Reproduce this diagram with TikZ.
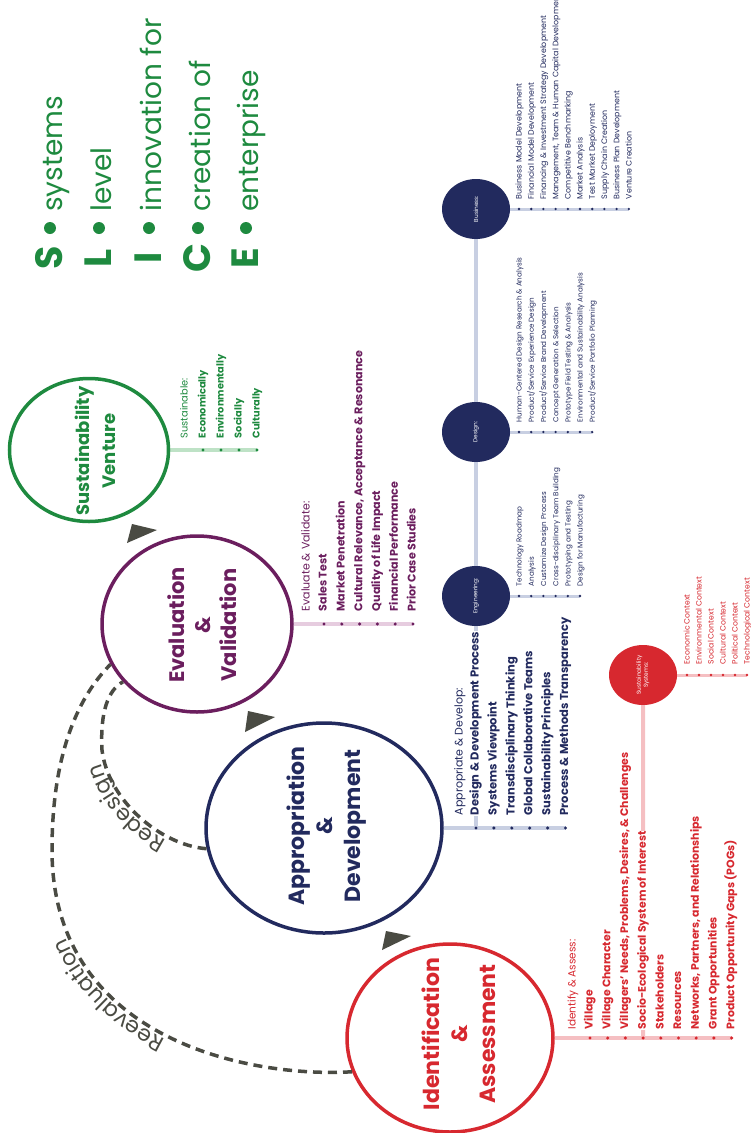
\documentclass[tikz,border=0pt]{standalone}
\usepackage{fontspec}
\setmainfont{Poppins}
\usetikzlibrary{shapes.geometric,decorations.text,backgrounds}
\definecolor{cred}{HTML}{D7282F}
\definecolor{lred}{HTML}{F5BFC2}
\definecolor{navy}{HTML}{222A5E}
\definecolor{lnavy}{HTML}{C8CFE2}
\definecolor{cpur}{HTML}{6B1E5E}
\definecolor{lpur}{HTML}{E6CCDF}
\definecolor{cgrn}{HTML}{1E8A3F}
\definecolor{lgrn}{HTML}{BEE2C6}
\definecolor{agray}{HTML}{4A4B43}
\begin{document}
\begin{tikzpicture}[x=1pt,y=-1pt,
  bigc/.style={ellipse, draw, line width=3.5pt, inner sep=0pt},
  smallc/.style={ellipse, inner sep=0pt, minimum width=68pt, minimum height=60pt},
  ttl/.style={rotate=90, align=center, inner sep=0pt, font=\bfseries\fontsize{22}{28}\selectfont},
  itm/.style={rotate=90, anchor=mid west, inner sep=0.6pt, fill=white},
  bigitem/.style={itm, font=\bfseries\fontsize{11.1}{13}\selectfont},
  hdr/.style={itm, font=\fontsize{11}{13}\selectfont},
  smitem/.style={itm, font=\fontsize{7.2}{8}\selectfont},
  dotm/.style={circle, inner sep=0pt, minimum size=3.4pt},
  sdotm/.style={circle, inner sep=0pt, minimum size=2.6pt},
  mline/.style={line width=4pt},
  sline/.style={line width=3pt},
  darc/.style={agray, line width=3.5pt, dash pattern=on 9pt off 6pt},
  slabel/.style={rotate=90, text=white, inner sep=0pt, align=center, font=\fontsize{5.8}{7}\selectfont}]
\useasboundingbox (0,0) rectangle (751,1133);

% ---- main circles
\node[bigc, draw=cred, minimum width=206pt, minimum height=188pt] (idc) at (450,1038) {};
\node[bigc, draw=navy, minimum width=236pt, minimum height=210pt] (apd) at (324,828) {};
\node[bigc, draw=cpur, minimum width=190pt, minimum height=176pt] (evv) at (197,624) {};
\node[bigc, draw=cgrn, minimum width=159pt, minimum height=143pt] (sve) at (89,450) {};

\node[ttl, text=cred] (idct) at (459,1034) {Identification\\\&\\Assessment};
\node[ttl, text=navy] (apdt) at (327,826) {Appropriation\\\&\\Development};
\node[ttl, text=cpur, font=\bfseries\fontsize{21}{26}\selectfont] (evvt) at (202,625) {Evaluation\\\&\\Validation};
\node[ttl, text=cgrn, font=\bfseries\fontsize{18}{26}\selectfont] (svet) at (95,451) {Sustainability\\Venture};

% ---- small circles
\node[smallc, fill=navy] (eng) at (476,596) {};
\node[smallc, fill=navy] (des) at (476,432) {};
\node[smallc, fill=navy] (bus) at (476,209) {};
\node[smallc, fill=cred] (sys) at (643,675) {};
\node[slabel] (engt) at (eng) {Engineering:};
\node[slabel] (dest) at (des) {Design:};
\node[slabel] (bust) at (bus) {Business:};
\node[slabel] (syst) at (sys) {Sustainability\\Systems:};

% ---- triangles
\fill[agray] (132,524) -- (157,530) -- (127,543) -- cycle;
\fill[agray] (248,711) -- (275,717) -- (245,732) -- cycle;
\fill[agray] (386,931) -- (411,936) -- (382,950) -- cycle;

% ---- identification list
\node[hdr, text=cred, font=\fontsize{10.5}{12}\selectfont] (idch) at (573,1030) {Identify \& Assess:};
\foreach \txt [count=\i] in {Village, Village Character, {Villagers' Needs, Problems, Desires, \& Challenges}, {Socio-Ecological System of Interest}, Stakeholders, Resources, {Networks, Partners, and Relationships}, Grant Opportunities, {Product Opportunity Gaps (POGs)}} {
  \pgfmathsetmacro\xx{590+17.7*(\i-1)}
  \coordinate (ib\i) at (\xx,1038);
  \node[dotm, fill=cred] (id\i) at (ib\i) {};
  \node[bigitem, text=cred, font=\bfseries\fontsize{10.9}{12}\selectfont] (it\i) at (\xx,1030) {\txt};
}

% ---- appropriation list
\node[hdr, text=navy] (apdh) at (460,816) {Appropriate \& Develop:};
\foreach \txt [count=\i] in {Design \& Development Process, Systems Viewpoint, Transdisciplinary Thinking, Global Collaborative Teams, Sustainability Principles, Process \& Methods Transparency} {
  \pgfmathsetmacro\xx{476+17.9*(\i-1)}
  \coordinate (ab\i) at (\xx,828);
  \node[dotm, fill=navy] (ad\i) at (ab\i) {};
  \node[bigitem, text=navy, font=\bfseries\fontsize{11.5}{13}\selectfont] (at\i) at (\xx,816) {\txt};
}

% ---- evaluation list
\node[hdr, text=cpur] (evvh) at (307,612) {Evaluate \& Validate:};
\foreach \txt [count=\i] in {Sales Test, Market Penetration, {Cultural Relevance, Acceptance \& Resonance}, Quality of Life Impact, Financial Performance, Prior Case Studies} {
  \pgfmathsetmacro\xx{324+17.8*(\i-1)}
  \coordinate (eb\i) at (\xx,624);
  \node[dotm, fill=cpur] (ed\i) at (eb\i) {};
  \node[bigitem, text=cpur] (et\i) at (\xx,612) {\txt};
}

% ---- sustainability venture list
\node[hdr, text=cgrn, font=\fontsize{9.8}{12}\selectfont] (sveh) at (185,439) {Sustainable:};
\foreach \txt [count=\i] in {Economically, Environmentally, Socially, Culturally} {
  \pgfmathsetmacro\xx{203+18*(\i-1)}
  \coordinate (gb\i) at (\xx,450);
  \node[dotm, fill=cgrn] (gd\i) at (gb\i) {};
  \node[bigitem, text=cgrn, font=\bfseries\fontsize{9.8}{12}\selectfont] (gt\i) at (\xx,439) {\txt};
}

% ---- engineering list
\foreach \txt [count=\i] in {Technology Roadmap, Analysis, Customize Design Process, Cross-disciplinary Team Building, Prototyping and Testing, Design for Manufacturing} {
  \pgfmathsetmacro\xx{519+12.2*(\i-1)}
  \coordinate (nb\i) at (\xx,596);
  \node[sdotm, fill=navy] (nd\i) at (nb\i) {};
  \node[smitem, text=navy] (nt\i) at (\xx,587) {\txt};
}

% ---- design list
\foreach \txt [count=\i] in {Human-Centered Design Research \& Analysis, Product/Service Experience Design, Product/Service Brand Development, Concept Generation \& Selection, Prototype Field Testing \& Analysis, Environmental and Sustainability Analysis, Product/Service Portfolio Planning} {
  \pgfmathsetmacro\xx{519+12.2*(\i-1)}
  \coordinate (db\i) at (\xx,432);
  \node[sdotm, fill=navy] (dd\i) at (db\i) {};
  \node[smitem, text=navy] (dt\i) at (\xx,423) {\txt};
}

% ---- business list
\foreach \txt [count=\i] in {Business Model Development, Financial Model Development, Financing \& Investment Strategy Development, {Management, Team \& Human Capital Development}, Competitive Benchmarking, Market Analysis, Test Market Deployment, Supply Chain Creation, Business Plan Development, Venture Creation} {
  \pgfmathsetmacro\xx{519+12.2*(\i-1)}
  \coordinate (bb\i) at (\xx,209);
  \node[sdotm, fill=navy] (bd\i) at (bb\i) {};
  \node[smitem, text=navy, font=\fontsize{7.9}{9}\selectfont] (bt\i) at (\xx,200) {\txt};
}

% ---- sustainability systems list
\foreach \txt [count=\i] in {Economic Context, Environmental Context, Social Context, Cultural Context, Political Context, Technological Context} {
  \pgfmathsetmacro\xx{687+12*(\i-1)}
  \coordinate (sb\i) at (\xx,675);
  \node[sdotm, fill=cred] (sd\i) at (sb\i) {};
  \node[smitem, text=cred, font=\fontsize{7.7}{9}\selectfont] (st\i) at (\xx,665) {\txt};
}

% ---- SLICE
\foreach \L/\w/\b [count=\i] in {S/systems/62, L/level/111, I/innovation for/161, C/creation of/210, E/enterprise/258} {
  \node[rotate=90, anchor=base, inner sep=0pt, text=cgrn, font=\bfseries\fontsize{38}{38}\selectfont] (cap\i) at (\b,258) {\L};
  \node[circle, fill=cgrn, inner sep=0pt, minimum size=12pt] (bul\i) at (\b-12,228) {};
  \node[rotate=90, anchor=base west, inner sep=0pt, text=cgrn, font=\fontsize{28}{28}\selectfont] (wrd\i) at (\b,212) {\w};
}

% ---- feedback arcs with labels
\draw[darc] (idc.199) .. controls (250,1078) and (52,1040) .. (52,850) .. controls (52,760) and (75,700) .. (evv.205);
\path[decorate, decoration={text along path, text color=agray, raise=3.5pt, text align={left, left indent=190pt}, text={|\fontsize{22}{22}\selectfont|Reevaluation}}] (idc.199) .. controls (250,1078) and (52,1040) .. (52,850) .. controls (52,760) and (75,700) .. (evv.205);
\draw[darc] (apd.190) .. controls (160,845) and (108,800) .. (102,750) .. controls (100,712) and (108,690) .. (evv.218);
\path[decorate, decoration={text along path, text color=agray, raise=3.5pt, text align={left, left indent=40pt}, text={|\fontsize{22}{22}\selectfont|Redesign}}] (apd.190) .. controls (160,845) and (108,800) .. (102,750) .. controls (100,712) and (108,690) .. (evv.218);

% ---- connector lines (behind)
\begin{scope}[on background layer]
\draw[mline, lred] (idc.east) -- (ib9);
\draw[mline, lred] (ib4) -- (sys);
\draw[mline, lnavy] (apd.east) -- (ab6);
\draw[mline, lnavy] (ab1) -- (eng);
\draw[mline, lnavy] (eng) -- (des);
\draw[mline, lnavy] (des) -- (bus);
\draw[mline, lpur] (evv.east) -- (eb6);
\draw[mline, lgrn] (sve.east) -- (gb4);
\draw[sline, lnavy] (eng.east) -- (nb6);
\draw[sline, lnavy] (des.east) -- (db7);
\draw[sline, lnavy] (bus.east) -- (bb10);
\draw[sline, lred] (sys.east) -- (sb6);
\end{scope}
\end{tikzpicture}
\end{document}
